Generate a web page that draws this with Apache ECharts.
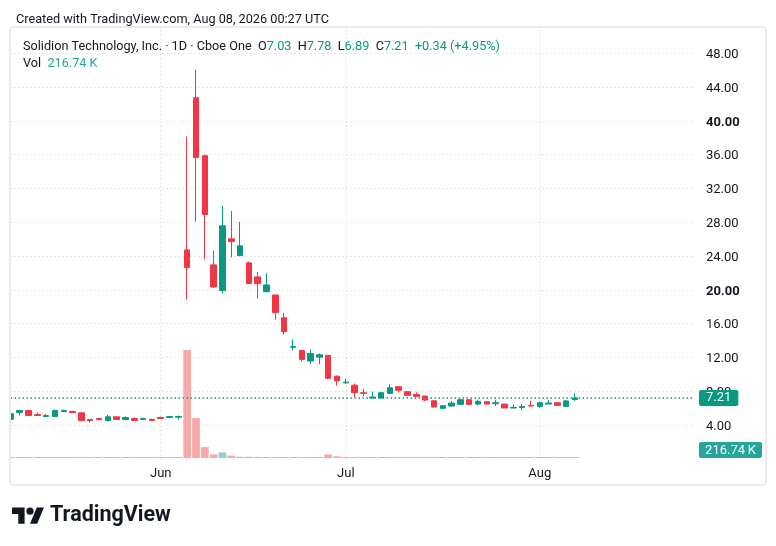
<!DOCTYPE html>
<html><head><meta charset="utf-8">
<script src="https://cdn.jsdelivr.net/npm/echarts@6/dist/echarts.min.js"></script>
<style>html,body{margin:0;padding:0;background:#fff}#c{width:776px;height:546px}</style>
</head><body><div id="c"></div>
<script>
const dates = ['2026-05-06','2026-05-07','2026-05-08','2026-05-11','2026-05-12','2026-05-13','2026-05-14','2026-05-15','2026-05-18','2026-05-19','2026-05-20','2026-05-21','2026-05-22','2026-05-26','2026-05-27','2026-05-28','2026-05-29',
'2026-06-01','2026-06-02','2026-06-03','2026-06-04','2026-06-05','2026-06-08','2026-06-09','2026-06-10','2026-06-11','2026-06-12','2026-06-15','2026-06-16','2026-06-17','2026-06-18','2026-06-22','2026-06-23','2026-06-24','2026-06-25','2026-06-26','2026-06-29','2026-06-30',
'2026-07-01','2026-07-02','2026-07-06','2026-07-07','2026-07-08','2026-07-09','2026-07-10','2026-07-13','2026-07-14','2026-07-15','2026-07-16','2026-07-17','2026-07-20','2026-07-21','2026-07-22','2026-07-23','2026-07-24','2026-07-27','2026-07-28','2026-07-29','2026-07-30','2026-07-31',
'2026-08-03','2026-08-04','2026-08-05','2026-08-06','2026-08-07'];
const opens = [4.70,5.50,5.73,5.26,5.02,5.02,5.62,5.62,5.46,4.67,4.79,4.55,4.99,4.67,4.79,4.67,4.67,
4.91,4.91,4.95,24.73,42.74,35.87,22.96,19.92,26.04,24.06,23.20,21.54,19.80,19.40,16.70,13.22,12.84,11.59,12.05,12.25,9.79,
9.01,8.73,7.84,7.21,7.21,7.76,8.55,7.96,7.64,7.45,6.89,5.99,6.26,6.46,7.01,6.50,6.78,6.54,6.50,6.03,6.10,6.34,
6.22,6.50,6.66,6.22,7.03];
const closes = [5.35,5.73,5.14,5.14,5.14,5.73,5.73,5.50,4.55,4.55,4.67,4.99,4.67,4.91,4.55,4.79,4.55,
4.79,5.02,5.02,22.64,35.67,28.92,20.35,27.58,25.72,25.21,20.75,20.75,20.59,17.33,15.06,13.30,11.78,12.48,12.33,9.55,9.24,
9.09,7.84,7.76,7.33,7.84,8.43,8.12,7.53,7.41,6.97,6.14,6.30,6.62,7.01,6.46,6.82,6.50,6.66,6.03,6.10,6.22,6.26,
6.66,6.62,6.34,6.87,7.21];
const lows = [4.65,5.15,5.12,5.12,5.00,5.00,5.60,5.48,4.55,4.31,4.55,4.43,4.67,4.63,4.52,4.63,4.53,
4.75,4.89,4.67,18.85,28.09,23.59,20.20,19.56,23.83,24.00,20.70,18.97,19.68,16.47,14.71,12.84,11.55,11.23,11.23,9.44,8.66,
8.89,7.33,7.45,7.20,7.20,7.76,7.88,7.53,7.40,6.82,6.14,5.87,6.20,6.46,6.46,6.34,6.48,6.26,6.03,6.02,5.79,6.26,
6.06,6.50,6.34,6.22,6.89];
const highs = [5.60,5.76,5.76,5.50,5.30,5.85,5.85,5.73,5.50,4.70,4.82,5.22,5.00,5.02,4.91,4.91,4.79,
5.02,5.05,5.14,38.12,46.05,36.00,24.62,29.95,29.35,28.05,23.35,22.13,22.01,19.45,17.29,14.13,12.86,12.95,12.48,12.28,9.90,
9.52,8.93,8.30,7.96,7.96,8.83,8.56,7.98,7.88,7.46,6.90,6.33,6.89,7.13,7.03,7.01,6.86,7.01,6.50,6.46,6.50,6.89,
6.78,7.01,6.66,6.95,7.78];
const volumes = [210000,180000,230000,150000,120000,260000,140000,130000,300000,170000,120000,220000,160000,140000,150000,110000,130000,
140000,160000,200000,58400000,21600000,5900000,1900000,3000000,1300000,700000,700000,600000,500000,550000,480000,420000,400000,450000,350000,1900000,900000,
420000,480000,330000,300000,350000,450000,380000,300000,280000,330000,400000,340000,300000,320000,290000,250000,260000,230000,280000,210000,230000,250000,
300000,210000,240000,330000,216740];
const monthLabels = {'2026-06-01':'Jun','2026-07-01':'Jul','2026-08-03':'Aug'};
const boldTicks = [20, 40];
const symbolName = 'Solidion Technology, Inc. · 1D · Cboe One';
const createdText = 'Created with TradingView.com, Aug 08, 2026 00:27 UTC';
const rightPadBars = 13;

const UP = '#089981', DOWN = '#f23645';
const UPVOL = '#92d2cc', DOWNVOL = '#f7a9a7';
const FONT = 'Roboto, "Noto Sans", sans-serif';
const TXT = '#131722';
const FS = 12.7;

const xData = dates.concat(Array.from({length: rightPadBars}, (_, i) => '__pad' + i));
const candleData = dates.map((d, i) => [opens[i], closes[i], lows[i], highs[i]]);
const volData = volumes.map((v, i) => ({value: v, itemStyle: {color: closes[i] >= opens[i] ? UPVOL : DOWNVOL}}));
const n = dates.length;
const lastO = opens[n-1], lastH = highs[n-1], lastL = lows[n-1], lastC = closes[n-1], prevC = closes[n-2];
const chg = lastC - prevC, pct = chg / prevC * 100;
const fmtK = v => (v / 1000).toFixed(2);

const chart = echarts.init(document.getElementById('c'), null, {renderer: 'canvas'});
const gridLine = {color: '#cfcfcf', width: 1, type: [1, 3]};
const option = {
  backgroundColor: '#ffffff',
  animation: false,
  textStyle: {fontFamily: FONT},
  title: [
    {text: createdText, left: 11, top: 8, textStyle: {fontSize: FS, fontWeight: 'normal', color: TXT, fontFamily: FONT}},
    {text: '{n|' + symbolName + '}  {k|O}{v|' + lastO.toFixed(2) + '}  {k|H}{v|' + lastH.toFixed(2) + '}  {k|L}{v|' + lastL.toFixed(2) + '}  {k|C}{v|' + lastC.toFixed(2) + '}  {v|' + (chg >= 0 ? '+' : '') + chg.toFixed(2) + ' (' + (pct >= 0 ? '+' : '') + pct.toFixed(2) + '%)}',
     left: 18, top: 35,
     textStyle: {fontSize: FS, fontWeight: 'normal', color: TXT, fontFamily: FONT,
       rich: {n: {fontSize: FS, color: TXT, fontFamily: FONT}, k: {fontSize: FS, color: TXT, fontFamily: FONT}, v: {fontSize: FS, color: UP, fontFamily: FONT}}}},
    {text: '{k|Vol}  {v|' + fmtK(volumes[n-1]) + ' K}', left: 18, top: 52,
     textStyle: {fontSize: FS, fontWeight: 'normal', color: TXT, fontFamily: FONT,
       rich: {k: {fontSize: FS, color: TXT, fontFamily: FONT}, v: {fontSize: FS, color: '#26a69a', fontFamily: FONT}}}}
  ],
  grid: [
    {left: 6.5, right: 82, top: 27, height: 432, outerBoundsMode: 'none'},
    {left: 6.5, right: 82, top: 350, height: 108, outerBoundsMode: 'none'}
  ],
  xAxis: [
    {type: 'category', gridIndex: 0, data: xData, boundaryGap: true,
     axisLine: {show: false}, axisTick: {show: false}, splitLine: {show: false},
     axisLabel: {show: true, margin: 8, color: TXT, fontSize: 13, fontFamily: FONT,
       interval: (idx, val) => monthLabels[val] !== undefined,
       formatter: v => monthLabels[v] || ''}},
    {type: 'category', gridIndex: 1, data: xData, boundaryGap: true, show: false}
  ],
  yAxis: [
    {type: 'value', gridIndex: 0, position: 'right', min: 0, max: 51.1, interval: 4, scale: false,
     axisLine: {show: false}, axisTick: {show: false},
     splitLine: {show: true, showMinLine: false, showMaxLine: false, lineStyle: gridLine},
     axisLabel: {margin: 12, color: TXT, fontSize: 13, fontFamily: FONT, showMinLabel: false, showMaxLabel: false,
       padding: [3, 0, 0, 0],
       formatter: v => boldTicks.indexOf(v) >= 0 ? '{b|' + v.toFixed(2) + '}' : v.toFixed(2),
       rich: {b: {fontWeight: 'bold', fontSize: 13, color: TXT, fontFamily: FONT}}}},
    {type: 'value', gridIndex: 1, min: 0, max: 'dataMax', show: false, splitLine: {show: false}}
  ],
  series: [
    {type: 'bar', name: 'Vol', xAxisIndex: 1, yAxisIndex: 1, data: volData, barWidth: '88%', barMinHeight: 1, z: 1, silent: true},
    {type: 'candlestick', name: 'Price', xAxisIndex: 0, yAxisIndex: 0, data: candleData, barWidth: 6, z: 3,
     itemStyle: {color: UP, color0: DOWN, borderColor: UP, borderColor0: DOWN, borderWidth: 1},
     markLine: {silent: true, symbol: ['none', 'none'], animation: false, z: 2,
       data: [
         ...Object.keys(monthLabels).map(d => ({xAxis: d, lineStyle: gridLine, label: {show: false}})),
         {yAxis: lastC, lineStyle: {color: UP, width: 1.5, type: [1.5, 2.5]},
          label: {show: true, position: 'end', distance: 5, formatter: () => lastC.toFixed(2),
            color: '#fff', backgroundColor: UP, padding: [2, 7, 1, 7], fontSize: 13, fontFamily: FONT, borderRadius: 2}}
       ]}}
  ],
  graphic: [
    {type: 'rect', left: 0, top: 20, shape: {width: 10, height: 470}, style: {fill: '#fff'}, z: 100},
    {type: 'rect', shape: {x: 10, y: 27, width: 756, height: 458, r: 4}, style: {fill: 'none', stroke: '#ebebeb', lineWidth: 2}, z: 101, silent: true},
    {type: 'group', x: 699, y: 442, z: 102, children: [
      {type: 'rect', shape: {x: 0, y: 0, width: 63, height: 16, r: 2}, style: {fill: '#26a69a'}},
      {type: 'text', x: 31.5, y: 8.5, style: {text: fmtK(volumes[n-1]) + '\u2009K', fill: '#fff', font: '13px ' + FONT, textAlign: 'center', textVerticalAlign: 'middle'}}
    ]},
    {type: 'group', x: 12, y: 504, scaleX: 0.9, scaleY: 0.9, z: 102, children: [
      {type: 'polygon', shape: {points: [[14,22],[7,22],[7,11],[0,11],[0,4],[14,4]]}, style: {fill: TXT}},
      {type: 'polygon', shape: {points: [[28,22],[20,22],[27.5,4],[35.5,4]]}, style: {fill: TXT}},
      {type: 'circle', shape: {cx: 20, cy: 8, r: 4}, style: {fill: TXT}}
    ]},
    {type: 'text', x: 50, y: 516, style: {text: 'TradingView', fill: TXT, font: 'bold 21.5px ' + FONT, textVerticalAlign: 'middle'}, z: 102}
  ]
};
chart.setOption(option);
</script></body></html>
